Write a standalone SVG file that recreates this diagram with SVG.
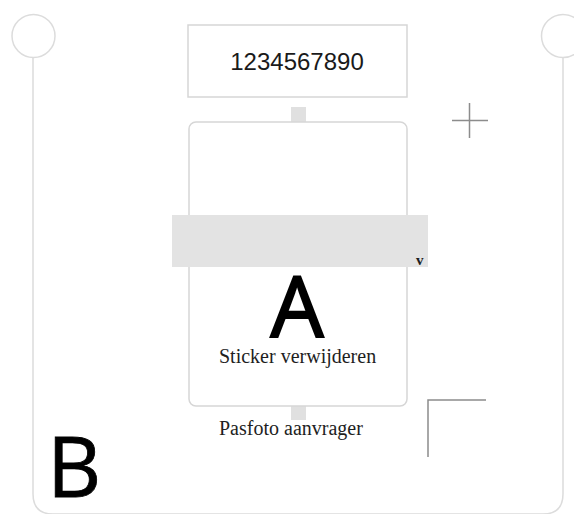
<svg xmlns="http://www.w3.org/2000/svg" width="574" height="514" viewBox="0 0 574 514">
<style>
.frame{fill:none;stroke:#dcdcdc;stroke-width:1.5}
.box{fill:#fff;stroke:#d6d6d6;stroke-width:1.5}
.tab{fill:#e0e0e0}
.mark{fill:none;stroke:#8c8c8c;stroke-width:1.5}
.serif{font-family:"Liberation Serif","Times New Roman",serif;fill:#1e1e1e}
.big{font-family:"Open Sans","Noto Sans",sans-serif;fill:#000}
</style>
<rect width="574" height="514" fill="#fff"/>
<g id="frame">
<path class="frame" d="M33,58 V494 Q33,514 53,514 H543 Q563,514 563,494 V58"/>
<circle class="frame" cx="33.5" cy="36" r="21.5"/>
<circle class="frame" cx="563" cy="36" r="21.5"/>
</g>
<g id="connectors">
<rect class="tab" x="291" y="107" width="15" height="29"/>
<rect class="tab" x="291" y="392" width="15" height="28"/>
</g>
<g id="number">
<rect class="box" x="188" y="25" width="219" height="72"/>
<text x="297" y="70" text-anchor="middle" font-family="Liberation Sans, Arial, sans-serif" font-size="24" fill="#1a1a1a">1234567890</text>
</g>
<g id="sticker">
<rect class="box" x="189" y="122" width="218" height="284" rx="7"/>
<rect x="172" y="215" width="256" height="52" fill="#e3e3e3"/>
<text class="serif" x="416" y="265" font-size="15" font-weight="bold" fill="#333">v</text>
<text class="big" x="297" y="337" font-size="84" text-anchor="middle" stroke="#000" stroke-width="2">A</text>
<text class="serif" x="219" y="363" font-size="20">Sticker verwijderen</text>
</g>
<text class="serif" x="219" y="435" font-size="20">Pasfoto aanvrager</text>
<text class="big" x="47" y="497" font-size="84" stroke="#000" stroke-width="0.8">B</text>
<g id="marks">
<path class="mark" d="M452,120.5 H488 M469.5,103 V138"/>
<path class="mark" d="M486,400 H428 V457" stroke-width="2"/>
</g>
</svg>
